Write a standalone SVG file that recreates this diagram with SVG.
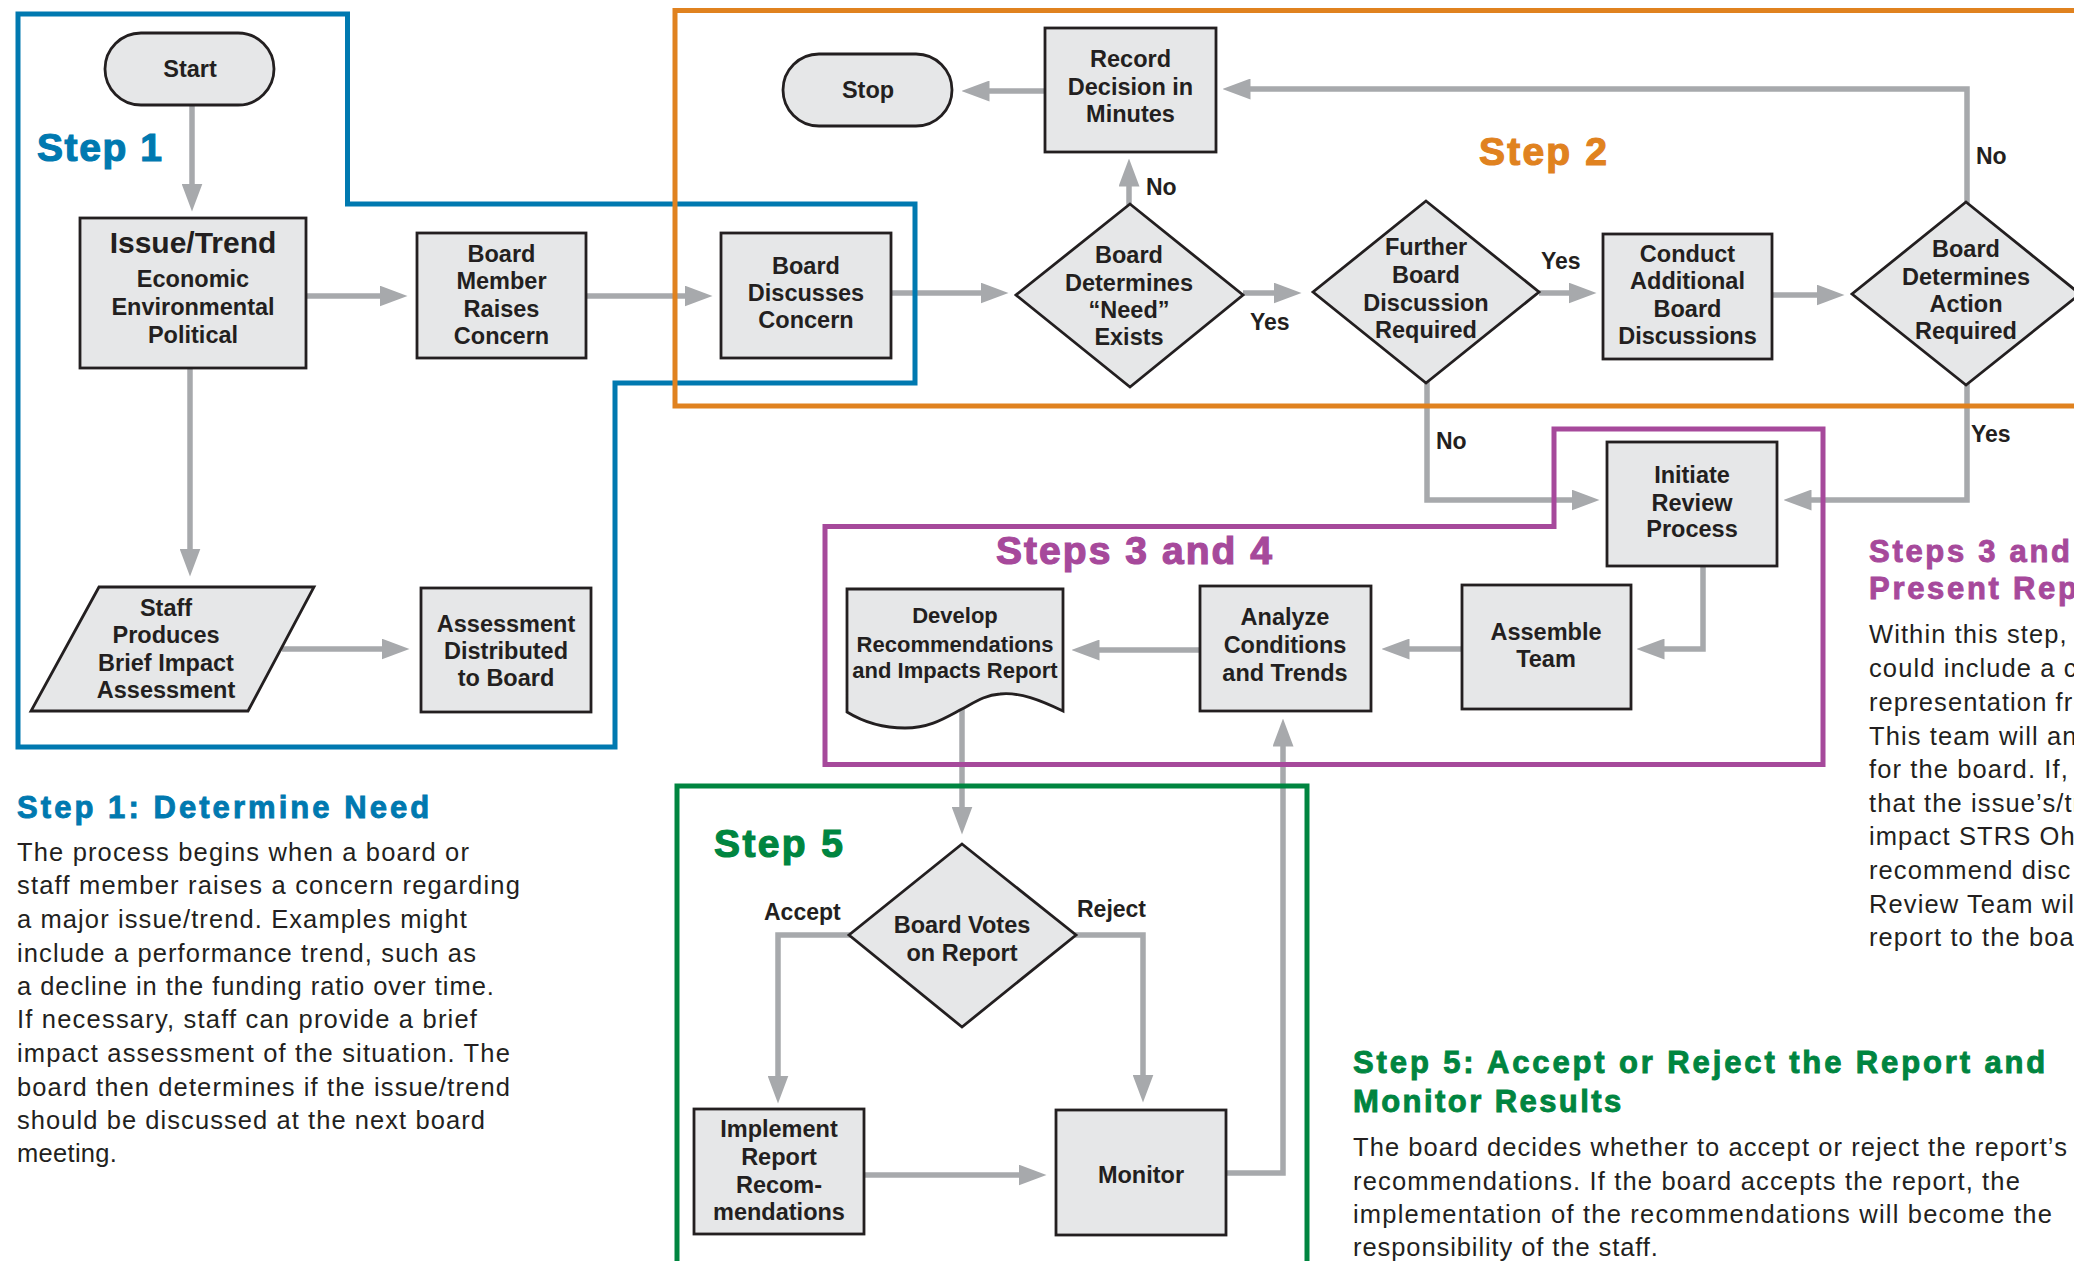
<svg xmlns="http://www.w3.org/2000/svg" width="2074" height="1261" viewBox="0 0 2074 1261">
<defs>
<style>
.box{fill:#e6e7e8;stroke:#231f20;stroke-width:2.8;stroke-linejoin:miter}
.con{fill:none;stroke:#a7a9ac;stroke-width:5.5;stroke-linejoin:miter;stroke-linecap:butt}
.frame{fill:none;stroke-width:5;stroke-linejoin:miter}
text{font-family:"Liberation Sans",Arial,Helvetica,sans-serif;fill:#231f20}
.nt{font-size:23.5px;font-weight:bold;text-anchor:middle}
.sm{font-size:22px}
.lb{font-size:23px;font-weight:bold}
.st{font-size:39px;font-weight:bold;stroke-width:1.2px}
.hd{font-size:31px;font-weight:bold;letter-spacing:2.7px;stroke-width:0.9px}
.bd{font-size:25.5px;letter-spacing:1.1px}
.blue{fill:#0079b0;stroke:#0079b0}
.orange{fill:#e0821f;stroke:#e0821f}
.purple{fill:#a6499b;stroke:#a6499b}
.green{fill:#008540;stroke:#008540}
</style>
<marker id="ah" markerUnits="userSpaceOnUse" markerWidth="28" markerHeight="21" viewBox="0 0 28 21" refX="0.5" refY="10.5" orient="auto">
<path d="M0,0 L28,10.5 L0,21 Z" fill="#a7a9ac"/>
</marker>
</defs>
<rect x="0" y="0" width="2074" height="1261" fill="#ffffff"/>

<g id="connectors">
<path class="con" marker-end="url(#ah)" d="M192,105 V184"/>
<path class="con" marker-end="url(#ah)" d="M306,296 H380"/>
<path class="con" marker-end="url(#ah)" d="M586,296 H685"/>
<path class="con" marker-end="url(#ah)" d="M190,368 V549"/>
<path class="con" marker-end="url(#ah)" d="M282,649 H382"/>
<path class="con" marker-end="url(#ah)" d="M891,293 H981"/>
<path class="con" marker-end="url(#ah)" d="M1129,205 V186"/>
<path class="con" marker-end="url(#ah)" d="M1045,91 H989"/>
<path class="con" marker-end="url(#ah)" d="M1243,293 H1274"/>
<path class="con" marker-end="url(#ah)" d="M1539,293 H1569"/>
<path class="con" marker-end="url(#ah)" d="M1772,295 H1817"/>
<path class="con" marker-end="url(#ah)" d="M1967,203 V89 H1250"/>
<path class="con" marker-end="url(#ah)" d="M1427,382 V500 H1572"/>
<path class="con" marker-end="url(#ah)" d="M1967,384 V500 H1811"/>
<path class="con" marker-end="url(#ah)" d="M1703,566 V649 H1664"/>
<path class="con" marker-end="url(#ah)" d="M1462,649 H1409"/>
<path class="con" marker-end="url(#ah)" d="M1200,650 H1099"/>
<path class="con" marker-end="url(#ah)" d="M962,705 V807"/>
<path class="con" marker-end="url(#ah)" d="M850,935 H778 V1076"/>
<path class="con" marker-end="url(#ah)" d="M1075,935 H1143 V1075"/>
<path class="con" marker-end="url(#ah)" d="M864,1175 H1019"/>
<path class="con" marker-end="url(#ah)" d="M1226,1173 H1283 V746"/>
</g>

<g id="frames">
<path class="frame" stroke="#0079b0" d="M18,14 H347.5 V204 H915 V383 H615 V747 H18 Z"/>
<path class="frame" stroke="#008540" d="M677,786 H1307 V1290 H677 Z"/>
<path class="frame" stroke="#a6499b" d="M1554,429 H1823 V764.5 H825 V526.5 H1554 Z"/>
<path class="frame" stroke="#e0821f" d="M675,10.5 H2100 V406 H675 Z"/>
</g>

<g id="step-labels">
<text class="st blue" x="37" y="161" textLength="125" lengthAdjust="spacing">Step 1</text>
<text class="st orange" x="1479" y="165" textLength="128" lengthAdjust="spacing">Step 2</text>
<text class="st purple" x="996" y="564" textLength="276" lengthAdjust="spacing">Steps 3 and 4</text>
<text class="st green" x="714" y="857" textLength="129" lengthAdjust="spacing">Step 5</text>
</g>

<g id="node-start">
<rect class="box" x="105" y="33" width="169" height="72" rx="36" ry="36"/>
<text class="nt" x="190" y="77">Start</text>
</g>
<g id="node-issue">
<rect class="box" x="80" y="218" width="226" height="150"/>
<text class="nt" x="193" y="253" style="font-size:30px">Issue/Trend</text>
<text class="nt" x="193" y="287">Economic</text>
<text class="nt" x="193" y="315">Environmental</text>
<text class="nt" x="193" y="343">Political</text>
</g>
<g id="node-board-member">
<rect class="box" x="417" y="233" width="169" height="125"/>
<text class="nt" x="501.5" y="262">Board</text>
<text class="nt" x="501.5" y="289">Member</text>
<text class="nt" x="501.5" y="317">Raises</text>
<text class="nt" x="501.5" y="344">Concern</text>
</g>
<g id="node-staff">
<polygon class="box" points="99,587 314,587 248,711 31,711"/>
<text class="nt" x="166" y="616">Staff</text>
<text class="nt" x="166" y="643">Produces</text>
<text class="nt" x="166" y="671">Brief Impact</text>
<text class="nt" x="166" y="698">Assessment</text>
</g>
<g id="node-assessment">
<rect class="box" x="421" y="588" width="170" height="124"/>
<text class="nt" x="506" y="632">Assessment</text>
<text class="nt" x="506" y="659">Distributed</text>
<text class="nt" x="506" y="686">to Board</text>
</g>
<g id="node-discusses">
<rect class="box" x="721" y="233" width="170" height="125"/>
<text class="nt" x="806" y="274">Board</text>
<text class="nt" x="806" y="301">Discusses</text>
<text class="nt" x="806" y="328">Concern</text>
</g>
<g id="node-stop">
<rect class="box" x="783" y="54" width="169" height="72" rx="36" ry="36"/>
<text class="nt" x="868" y="98">Stop</text>
</g>
<g id="node-record">
<rect class="box" x="1045" y="28" width="171" height="124"/>
<text class="nt" x="1130.5" y="67">Record</text>
<text class="nt" x="1130.5" y="95">Decision in</text>
<text class="nt" x="1130.5" y="122">Minutes</text>
</g>
<g id="node-need">
<polygon class="box" points="1130,204 1243,295 1130,387 1016,295"/>
<text class="nt" x="1129" y="263">Board</text>
<text class="nt" x="1129" y="291">Determines</text>
<text class="nt" x="1129" y="318">“Need”</text>
<text class="nt" x="1129" y="345">Exists</text>
</g>
<g id="node-further">
<polygon class="box" points="1426,201 1539,292 1426,383 1313,292"/>
<text class="nt" x="1426" y="255">Further</text>
<text class="nt" x="1426" y="283">Board</text>
<text class="nt" x="1426" y="311">Discussion</text>
<text class="nt" x="1426" y="338">Required</text>
</g>
<g id="node-conduct">
<rect class="box" x="1603" y="234" width="169" height="125"/>
<text class="nt" x="1687.5" y="262">Conduct</text>
<text class="nt" x="1687.5" y="289">Additional</text>
<text class="nt" x="1687.5" y="317">Board</text>
<text class="nt" x="1687.5" y="344">Discussions</text>
</g>
<g id="node-action">
<polygon class="box" points="1966,202 2080,294 1966,385 1852,294"/>
<text class="nt" x="1966" y="257">Board</text>
<text class="nt" x="1966" y="285">Determines</text>
<text class="nt" x="1966" y="312">Action</text>
<text class="nt" x="1966" y="339">Required</text>
</g>
<g id="node-initiate">
<rect class="box" x="1607" y="442" width="170" height="124"/>
<text class="nt" x="1692" y="483">Initiate</text>
<text class="nt" x="1692" y="511">Review</text>
<text class="nt" x="1692" y="537">Process</text>
</g>
<g id="node-assemble">
<rect class="box" x="1462" y="585" width="169" height="124"/>
<text class="nt" x="1546" y="640">Assemble</text>
<text class="nt" x="1546" y="667">Team</text>
</g>
<g id="node-analyze">
<rect class="box" x="1200" y="586" width="171" height="125"/>
<text class="nt" x="1285" y="625">Analyze</text>
<text class="nt" x="1285" y="653">Conditions</text>
<text class="nt" x="1285" y="681">and Trends</text>
</g>
<g id="node-develop">
<path class="box" d="M847,589 H1063 V711 C1040,700 1020,692 1000,694 C985,695 975,702 962,709 C945,718 930,728 905,728 C880,728 860,720 847,712 Z"/>
<text class="nt sm" x="955" y="623">Develop</text>
<text class="nt sm" x="955" y="652">Recommendations</text>
<text class="nt sm" x="955" y="678">and Impacts Report</text>
</g>
<g id="node-votes">
<polygon class="box" points="962,844 1076,935 962,1027 849,935"/>
<text class="nt" x="962" y="933">Board Votes</text>
<text class="nt" x="962" y="961">on Report</text>
</g>
<g id="node-implement">
<rect class="box" x="694" y="1109" width="170" height="125"/>
<text class="nt" x="779" y="1137">Implement</text>
<text class="nt" x="779" y="1165">Report</text>
<text class="nt" x="779" y="1193">Recom-</text>
<text class="nt" x="779" y="1220">mendations</text>
</g>
<g id="node-monitor">
<rect class="box" x="1056" y="1110" width="170" height="125"/>
<text class="nt" x="1141" y="1183">Monitor</text>
</g>

<g id="edge-labels">
<text class="lb" x="1146" y="195">No</text>
<text class="lb" x="1250" y="330">Yes</text>
<text class="lb" x="1541" y="269">Yes</text>
<text class="lb" x="1976" y="164">No</text>
<text class="lb" x="1436" y="449">No</text>
<text class="lb" x="1971" y="442">Yes</text>
<text class="lb" x="764" y="920">Accept</text>
<text class="lb" x="1077" y="917">Reject</text>
</g>

<g id="text-step1">
<text class="hd blue" x="17" y="818" textLength="415" lengthAdjust="spacing">Step 1: Determine Need</text>
<text class="bd" x="17" y="861" textLength="453" lengthAdjust="spacing">The process begins when a board or</text>
<text class="bd" x="17" y="894" textLength="504" lengthAdjust="spacing">staff member raises a concern regarding</text>
<text class="bd" x="17" y="928" textLength="451" lengthAdjust="spacing">a major issue/trend. Examples might</text>
<text class="bd" x="17" y="962" textLength="460" lengthAdjust="spacing">include a performance trend, such as</text>
<text class="bd" x="17" y="995" textLength="478" lengthAdjust="spacing">a decline in the funding ratio over time.</text>
<text class="bd" x="17" y="1028" textLength="461" lengthAdjust="spacing">If necessary, staff can provide a brief</text>
<text class="bd" x="17" y="1062" textLength="494" lengthAdjust="spacing">impact assessment of the situation. The</text>
<text class="bd" x="17" y="1096" textLength="494" lengthAdjust="spacing">board then determines if the issue/trend</text>
<text class="bd" x="17" y="1129" textLength="469" lengthAdjust="spacing">should be discussed at the next board</text>
<text class="bd" x="17" y="1162" textLength="101" lengthAdjust="spacing">meeting.</text>
</g>

<g id="text-step34">
<text class="hd purple" x="1869" y="562">Steps 3 and</text>
<text class="hd purple" x="1869" y="599">Present Rep</text>
<text class="bd" x="1869" y="643">Within this step, a</text>
<text class="bd" x="1869" y="677">could include a c</text>
<text class="bd" x="1869" y="711">representation fro</text>
<text class="bd" x="1869" y="745">This team will an</text>
<text class="bd" x="1869" y="778">for the board. If, w</text>
<text class="bd" x="1869" y="812">that the issue’s/tr</text>
<text class="bd" x="1869" y="845">impact STRS Oh</text>
<text class="bd" x="1869" y="879">recommend disc</text>
<text class="bd" x="1869" y="913">Review Team wil</text>
<text class="bd" x="1869" y="946">report to the boa</text>
</g>

<g id="text-step5">
<text class="hd green" x="1353" y="1073" textLength="695" lengthAdjust="spacing">Step 5: Accept or Reject the Report and</text>
<text class="hd green" x="1353" y="1112" textLength="271" lengthAdjust="spacing">Monitor Results</text>
<text class="bd" x="1353" y="1156" textLength="715" lengthAdjust="spacing">The board decides whether to accept or reject the report’s</text>
<text class="bd" x="1353" y="1190" textLength="668" lengthAdjust="spacing">recommendations. If the board accepts the report, the</text>
<text class="bd" x="1353" y="1223" textLength="700" lengthAdjust="spacing">implementation of the recommendations will become the</text>
<text class="bd" x="1353" y="1256" textLength="306" lengthAdjust="spacing">responsibility of the staff.</text>
</g>
</svg>
